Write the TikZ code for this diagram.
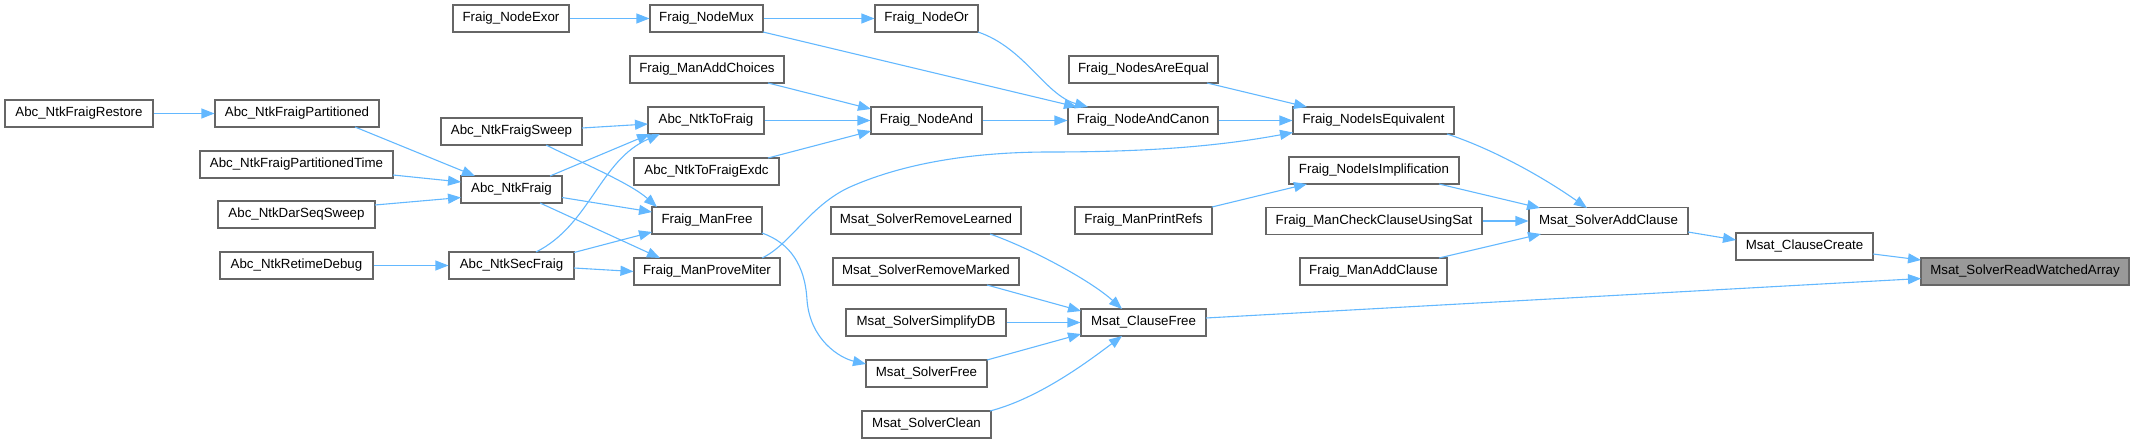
\documentclass[tikz,border=0pt]{standalone}
\usepackage{fontspec}
\setmainfont{Liberation Sans}
\usetikzlibrary{arrows.meta}
\definecolor{boxgray}{HTML}{666666}
\definecolor{edgeblue}{HTML}{63B8FF}
\definecolor{targetfill}{HTML}{999999}
\begin{document}
\begin{tikzpicture}[x=1pt,y=-1pt,
  box/.style={draw=boxgray, line width=1.1pt, fill=white, inner sep=0pt, minimum height=27pt,
    font=\fontsize{13.3}{15}\selectfont, text height=9.6pt, text depth=2.7pt, anchor=center},
  link/.style={draw=edgeblue, line width=1.1pt, -{Triangle[length=13pt,width=10pt,fill=edgeblue]}}]
\useasboundingbox (0,0) rectangle (2134,443);
% nodes
\node[box, minimum width=148pt] (restore) at (79,113.5) {Abc\_NtkFraigRestore};
\node[box, minimum width=164pt] (part) at (297,113.5) {Abc\_NtkFraigPartitioned};
\node[box, minimum width=193pt] (parttime) at (296.5,164.5) {Abc\_NtkFraigPartitionedTime};
\node[box, minimum width=157pt] (darseq) at (296.5,214.5) {Abc\_NtkDarSeqSweep};
\node[box, minimum width=153pt] (retime) at (296.5,265.5) {Abc\_NtkRetimeDebug};
\node[box, minimum width=116pt] (exor) at (511,18.5) {Fraig\_NodeExor};
\node[box, minimum width=141pt] (sweep) at (511.5,131.5) {Abc\_NtkFraigSweep};
\node[box, minimum width=101pt] (fraig) at (511.5,189.5) {Abc\_NtkFraig};
\node[box, minimum width=125pt] (sec) at (511.5,265.5) {Abc\_NtkSecFraig};
\node[box, minimum width=113pt] (mux) at (706.5,18.5) {Fraig\_NodeMux};
\node[box, minimum width=154pt] (choices) at (707,69.5) {Fraig\_ManAddChoices};
\node[box, minimum width=116pt] (tofraig) at (706,120.5) {Abc\_NtkToFraig};
\node[box, minimum width=145pt] (exdc) at (706.5,171.5) {Abc\_NtkToFraigExdc};
\node[box, minimum width=110pt] (manfree) at (707,220.5) {Fraig\_ManFree};
\node[box, minimum width=146pt] (prove) at (707,271.5) {Fraig\_ManProveMiter};
\node[box, minimum width=103pt] (nor) at (926.5,18.5) {Fraig\_NodeOr};
\node[box, minimum width=111pt] (nand) at (926.5,120.5) {Fraig\_NodeAnd};
\node[box, minimum width=190pt] (remlearn) at (926,220.5) {Msat\_SolverRemoveLearned};
\node[box, minimum width=186pt] (remmark) at (926,271.5) {Msat\_SolverRemoveMarked};
\node[box, minimum width=160pt] (simp) at (926,322.5) {Msat\_SolverSimplifyDB};
\node[box, minimum width=121pt] (sfree) at (926.5,373.5) {Msat\_SolverFree};
\node[box, minimum width=129pt] (clean) at (926.5,424.5) {Msat\_SolverClean};
\node[box, minimum width=149pt] (equal) at (1143.5,69.5) {Fraig\_NodesAreEqual};
\node[box, minimum width=150pt] (canon) at (1143,120.5) {Fraig\_NodeAndCanon};
\node[box, minimum width=137pt] (refs) at (1143.5,220.5) {Fraig\_ManPrintRefs};
\node[box, minimum width=125pt] (cfree) at (1143.5,322.5) {Msat\_ClauseFree};
\node[box, minimum width=161pt] (equiv) at (1373.5,120.5) {Fraig\_NodeIsEquivalent};
\node[box, minimum width=170pt] (impl) at (1374,170.5) {Fraig\_NodeIsImplification};
\node[box, minimum width=216pt] (check) at (1374,221) {Fraig\_ManCheckClauseUsingSat};
\node[box, minimum width=147pt] (addcl) at (1373.5,271.5) {Fraig\_ManAddClause};
\node[box, minimum width=159pt] (saddcl) at (1608.5,221) {Msat\_SolverAddClause};
\node[box, minimum width=137pt] (ccreate) at (1804.5,246.5) {Msat\_ClauseCreate};
\node[box, minimum width=208pt, fill=targetfill] (target) at (2025,271.5) {Msat\_SolverReadWatchedArray};
% edges
\draw[link] (restore.east) -- (part.west);
\draw[link] ([shift={(58,13.5)}]part.center) -- ([shift={(-36.5,-13.5)}]fraig.center);
\draw[link] ([shift={(96.5,10.5)}]parttime.center) -- ([shift={(-50.5,-7.5)}]fraig.center);
\draw[link] ([shift={(78.5,-9.5)}]darseq.center) -- ([shift={(-50.5,8)}]fraig.center);
\draw[link] (retime.east) -- (sec.west);
\draw[link] ([shift={(70.5,-3.5)}]sweep.center) -- ([shift={(-58,3.5)}]tofraig.center);
\draw[link] ([shift={(34.5,13.5)}]sweep.center) .. controls (580,162) and (630,183) .. ([shift={(-50,-13.5)}]manfree.center);
\draw[link] ([shift={(38.5,-13.5)}]fraig.center) -- ([shift={(-56,13.5)}]tofraig.center);
\draw[link] ([shift={(50.5,8)}]fraig.center) -- ([shift={(-55,-8.5)}]manfree.center);
\draw[link] ([shift={(28.5,13.5)}]fraig.center) -- ([shift={(-47,-13.5)}]prove.center);
\draw[link] ([shift={(24.5,-13.5)}]sec.center) .. controls (590,225) and (600,160) .. ([shift={(-46,13.5)}]tofraig.center);
\draw[link] ([shift={(62.5,-13)}]sec.center) -- ([shift={(-55,11.5)}]manfree.center);
\draw[link] ([shift={(62.5,2.5)}]sec.center) -- (prove.west);
\draw[link] (exor.east) -- (mux.west);
\draw[link] (mux.east) -- (nor.west);
\draw[link] ([shift={(56.5,13.5)}]mux.center) -- ([shift={(-66,-13.5)}]canon.center);
\draw[link] ([shift={(51.5,13.5)}]nor.center) .. controls (1025,48) and (1045,95) .. ([shift={(-55,-13.5)}]canon.center);
\draw[link] ([shift={(61,13.5)}]choices.center) -- ([shift={(-55.5,-11.5)}]nand.center);
\draw[link] (tofraig.east) -- (nand.west);
\draw[link] ([shift={(61.5,-13.5)}]exdc.center) -- ([shift={(-55.5,10.5)}]nand.center);
\draw[link] (nand.east) -- (canon.west);
\draw[link] (canon.east) -- (equiv.west);
\draw[link] ([shift={(63.5,13.5)}]equal.center) -- ([shift={(-66.5,-13.5)}]equiv.center);
\draw[link] ([shift={(55,-13.5)}]prove.center) .. controls (790,245) and (810,205) .. (850,187)
   .. controls (895,167) and (960,152) .. (1050,152)
   .. controls (1150,152) and (1220,146) .. ([shift={(-80.5,12)}]equiv.center);
\draw[link] ([shift={(68.5,-13.5)}]refs.center) -- ([shift={(-67,13.5)}]impl.center);
\draw[link] ([shift={(73.5,13.5)}]equiv.center) .. controls (1490,148) and (1540,175) .. ([shift={(-21.5,-13)}]saddcl.center);
\draw[link] ([shift={(65,13.5)}]impl.center) -- ([shift={(-68.5,-13)}]saddcl.center);
\draw[link] (check.east) -- (saddcl.west);
\draw[link] ([shift={(65.5,-13.5)}]addcl.center) -- ([shift={(-67.5,13)}]saddcl.center);
\draw[link] ([shift={(79.5,11)}]saddcl.center) -- ([shift={(-68.5,-6.5)}]ccreate.center);
\draw[link] ([shift={(68.5,7.5)}]ccreate.center) -- ([shift={(-104,-11.5)}]target.center);
\draw[link] ([shift={(62.5,-4.5)}]cfree.center) -- ([shift={(-104,7)}]target.center);
\draw[link] ([shift={(55,12.5)}]manfree.center) .. controls (790,243) and (805,265) .. (807,300)
   .. controls (810,340) and (840,358) .. ([shift={(-60.5,-9.5)}]sfree.center);
\draw[link] ([shift={(64,13.5)}]remlearn.center) .. controls (1030,248) and (1090,280) .. ([shift={(-21.5,-13.5)}]cfree.center);
\draw[link] ([shift={(61,13.5)}]remmark.center) -- ([shift={(-62.5,-11.5)}]cfree.center);
\draw[link] (simp.east) -- (cfree.west);
\draw[link] ([shift={(60.5,-13.5)}]sfree.center) -- ([shift={(-62.5,11.5)}]cfree.center);
\draw[link] ([shift={(63.5,-13.5)}]clean.center) .. controls (1040,398) and (1090,360) .. ([shift={(-21.5,13.5)}]cfree.center);
\end{tikzpicture}
\end{document}
